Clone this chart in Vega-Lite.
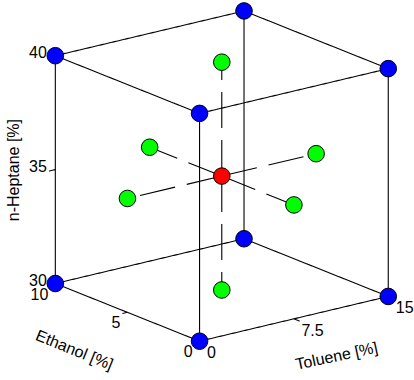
{
  "$schema": "https://vega.github.io/schema/vega-lite/v6.json",
  "width": 414,
  "height": 380,
  "padding": 0,
  "autosize": {"type": "fit", "contains": "padding"},
  "background": "white",
  "config": {"view": {"stroke": null}, "text": {"font": "Liberation Sans", "fontSize": 16, "color": "black"}},
  "datasets": {
    "lines": [
      {"e1": 0, "t1": 0, "h1": 30, "e2": 10, "t2": 0, "h2": 30, "kind": "edge"},
      {"e1": 0, "t1": 0, "h1": 30, "e2": 0, "t2": 15, "h2": 30, "kind": "edge"},
      {"e1": 10, "t1": 0, "h1": 30, "e2": 10, "t2": 15, "h2": 30, "kind": "edge"},
      {"e1": 0, "t1": 15, "h1": 30, "e2": 10, "t2": 15, "h2": 30, "kind": "edge"},
      {"e1": 0, "t1": 0, "h1": 40, "e2": 10, "t2": 0, "h2": 40, "kind": "edge"},
      {"e1": 0, "t1": 0, "h1": 40, "e2": 0, "t2": 15, "h2": 40, "kind": "edge"},
      {"e1": 10, "t1": 0, "h1": 40, "e2": 10, "t2": 15, "h2": 40, "kind": "edge"},
      {"e1": 0, "t1": 15, "h1": 40, "e2": 10, "t2": 15, "h2": 40, "kind": "edge"},
      {"e1": 0, "t1": 0, "h1": 30, "e2": 0, "t2": 0, "h2": 40, "kind": "edge"},
      {"e1": 10, "t1": 0, "h1": 30, "e2": 10, "t2": 0, "h2": 40, "kind": "edge"},
      {"e1": 0, "t1": 15, "h1": 30, "e2": 0, "t2": 15, "h2": 40, "kind": "edge"},
      {"e1": 10, "t1": 15, "h1": 30, "e2": 10, "t2": 15, "h2": 40, "kind": "edge"},
      {"e1": 5, "t1": 7.5, "h1": 35, "e2": 5, "t2": 7.5, "h2": 40, "kind": "axial"},
      {"e1": 5, "t1": 7.5, "h1": 35, "e2": 5, "t2": 7.5, "h2": 30, "kind": "axial"},
      {"e1": 5, "t1": 7.5, "h1": 35, "e2": 0, "t2": 7.5, "h2": 35, "kind": "axial"},
      {"e1": 5, "t1": 7.5, "h1": 35, "e2": 10, "t2": 7.5, "h2": 35, "kind": "axial"},
      {"e1": 5, "t1": 7.5, "h1": 35, "e2": 5, "t2": 0, "h2": 35, "kind": "axial"},
      {"e1": 5, "t1": 7.5, "h1": 35, "e2": 5, "t2": 15, "h2": 35, "kind": "axial"},
      {"e1": 5, "t1": 0, "h1": 30, "e2": 5, "t2": -0.4, "h2": 30, "kind": "tick"},
      {"e1": 0, "t1": 7.5, "h1": 30, "e2": -0.4, "t2": 7.5, "h2": 30, "kind": "tick"},
      {"e1": 10, "t1": 0, "h1": 35, "e2": 10, "t2": -0.5, "h2": 35, "kind": "tick"}
    ],
    "points": [
      {"ethanol": 0, "toluene": 0, "heptane": 30, "group": "cube"},
      {"ethanol": 10, "toluene": 0, "heptane": 30, "group": "cube"},
      {"ethanol": 0, "toluene": 15, "heptane": 30, "group": "cube"},
      {"ethanol": 10, "toluene": 15, "heptane": 30, "group": "cube"},
      {"ethanol": 0, "toluene": 0, "heptane": 40, "group": "cube"},
      {"ethanol": 10, "toluene": 0, "heptane": 40, "group": "cube"},
      {"ethanol": 0, "toluene": 15, "heptane": 40, "group": "cube"},
      {"ethanol": 10, "toluene": 15, "heptane": 40, "group": "cube"},
      {"ethanol": 5, "toluene": 7.5, "heptane": 30, "group": "axial"},
      {"ethanol": 5, "toluene": 7.5, "heptane": 40, "group": "axial"},
      {"ethanol": 0, "toluene": 7.5, "heptane": 35, "group": "axial"},
      {"ethanol": 10, "toluene": 7.5, "heptane": 35, "group": "axial"},
      {"ethanol": 5, "toluene": 0, "heptane": 35, "group": "axial"},
      {"ethanol": 5, "toluene": 15, "heptane": 35, "group": "axial"},
      {"ethanol": 5, "toluene": 7.5, "heptane": 35, "group": "center"}
    ],
    "ticks": [
      {"axis": "heptane", "ethanol": 10, "toluene": 0, "heptane": 30, "label": "30"},
      {"axis": "heptane", "ethanol": 10, "toluene": 0, "heptane": 35, "label": "35"},
      {"axis": "heptane", "ethanol": 10, "toluene": 0, "heptane": 40, "label": "40"},
      {"axis": "ethanol", "ethanol": 0, "toluene": 0, "heptane": 30, "label": "0"},
      {"axis": "ethanol", "ethanol": 5, "toluene": 0, "heptane": 30, "label": "5"},
      {"axis": "ethanol", "ethanol": 10, "toluene": 0, "heptane": 30, "label": "10"},
      {"axis": "toluene", "ethanol": 0, "toluene": 0, "heptane": 30, "label": "0"},
      {"axis": "toluene", "ethanol": 0, "toluene": 7.5, "heptane": 30, "label": "7.5"},
      {"axis": "toluene", "ethanol": 0, "toluene": 15, "heptane": 30, "label": "15"}
    ],
    "titles": [
      {"axis": "heptane", "ethanol": 10, "toluene": 0, "heptane": 35, "title": "n-Heptane [%]"},
      {"axis": "ethanol", "ethanol": 5, "toluene": 0, "heptane": 30, "title": "Ethanol [%]"},
      {"axis": "toluene", "ethanol": 0, "toluene": 7.5, "heptane": 30, "title": "Toluene [%]"}
    ]
  },
  "layer": [
    {
      "data": {"name": "lines"},
      "transform": [
        {"calculate": "202 + datum.t1/15*191 - datum.e1/10*146", "as": "sx1"},
        {"calculate": "341 - datum.t1/15*45 - datum.e1/10*58 - (datum.h1-30)/10*229", "as": "sy1"},
        {"calculate": "202 + datum.t2/15*191 - datum.e2/10*146", "as": "sx2"},
        {"calculate": "341 - datum.t2/15*45 - datum.e2/10*58 - (datum.h2-30)/10*229", "as": "sy2"}
      ],
      "mark": {"type": "rule", "color": "black", "strokeWidth": 1.1},
      "encoding": {
        "x": {"field": "sx1", "type": "quantitative", "scale": {"domain": [0, 414], "nice": false, "zero": false}, "axis": null},
        "y": {"field": "sy1", "type": "quantitative", "scale": {"domain": [0, 380], "nice": false, "zero": false, "reverse": true}, "axis": null},
        "x2": {"field": "sx2"},
        "y2": {"field": "sy2"},
        "strokeDash": {"field": "kind", "type": "nominal", "scale": {"domain": ["edge", "axial", "tick"], "range": [[1, 0], [36, 12], [1, 0]]}, "legend": null}
      }
    },
    {
      "data": {"name": "points"},
      "transform": [
        {"calculate": "202 + datum.toluene/15*191 - datum.ethanol/10*146", "as": "sx"},
        {"calculate": "341 - datum.toluene/15*45 - datum.ethanol/10*58 - (datum.heptane-30)/10*229", "as": "sy"}
      ],
      "mark": {"type": "circle", "size": 275, "stroke": "black", "strokeWidth": 1, "opacity": 1},
      "encoding": {
        "x": {"field": "sx", "type": "quantitative"},
        "y": {"field": "sy", "type": "quantitative"},
        "color": {"field": "group", "type": "nominal", "scale": {"domain": ["cube", "axial", "center"], "range": ["#0000ff", "#00ff00", "#ff0000"]}, "legend": null}
      }
    },
    {
      "data": {"name": "ticks"},
      "transform": [
        {"filter": "datum.axis === 'heptane'"},
        {"calculate": "202 + datum.toluene/15*191 - datum.ethanol/10*146", "as": "sx"},
        {"calculate": "341 - datum.toluene/15*45 - datum.ethanol/10*58 - (datum.heptane-30)/10*229", "as": "sy"}
      ],
      "mark": {"type": "text", "align": "right", "baseline": "middle", "dx": -8.5, "dy": -3},
      "encoding": {
        "x": {"field": "sx", "type": "quantitative"},
        "y": {"field": "sy", "type": "quantitative"},
        "text": {"field": "label", "type": "nominal"}
      }
    },
    {
      "data": {"name": "ticks"},
      "transform": [
        {"filter": "datum.axis === 'ethanol'"},
        {"calculate": "202 + datum.toluene/15*191 - datum.ethanol/10*146", "as": "sx"},
        {"calculate": "341 - datum.toluene/15*45 - datum.ethanol/10*58 - (datum.heptane-30)/10*229", "as": "sy"}
      ],
      "mark": {"type": "text", "align": "right", "baseline": "middle", "dx": -7, "dy": 11},
      "encoding": {
        "x": {"field": "sx", "type": "quantitative"},
        "y": {"field": "sy", "type": "quantitative"},
        "text": {"field": "label", "type": "nominal"}
      }
    },
    {
      "data": {"name": "ticks"},
      "transform": [
        {"filter": "datum.axis === 'toluene'"},
        {"calculate": "202 + datum.toluene/15*191 - datum.ethanol/10*146", "as": "sx"},
        {"calculate": "341 - datum.toluene/15*45 - datum.ethanol/10*58 - (datum.heptane-30)/10*229", "as": "sy"}
      ],
      "mark": {"type": "text", "align": "left", "baseline": "middle", "dx": 7.5, "dy": 12},
      "encoding": {
        "x": {"field": "sx", "type": "quantitative"},
        "y": {"field": "sy", "type": "quantitative"},
        "text": {"field": "label", "type": "nominal"}
      }
    },
    {
      "data": {"name": "titles"},
      "transform": [
        {"filter": "datum.axis === 'heptane'"},
        {"calculate": "202 + datum.toluene/15*191 - datum.ethanol/10*146", "as": "sx"},
        {"calculate": "341 - datum.toluene/15*45 - datum.ethanol/10*58 - (datum.heptane-30)/10*229", "as": "sy"}
      ],
      "mark": {"type": "text", "align": "center", "baseline": "middle", "angle": 270, "dx": -0.5, "dy": -41},
      "encoding": {
        "x": {"field": "sx", "type": "quantitative"},
        "y": {"field": "sy", "type": "quantitative"},
        "text": {"field": "title", "type": "nominal"}
      }
    },
    {
      "data": {"name": "titles"},
      "transform": [
        {"filter": "datum.axis === 'ethanol'"},
        {"calculate": "202 + datum.toluene/15*191 - datum.ethanol/10*146", "as": "sx"},
        {"calculate": "341 - datum.toluene/15*45 - datum.ethanol/10*58 - (datum.heptane-30)/10*229", "as": "sy"}
      ],
      "mark": {"type": "text", "align": "center", "baseline": "middle", "angle": 22, "dx": -35, "dy": 55},
      "encoding": {
        "x": {"field": "sx", "type": "quantitative"},
        "y": {"field": "sy", "type": "quantitative"},
        "text": {"field": "title", "type": "nominal"}
      }
    },
    {
      "data": {"name": "titles"},
      "transform": [
        {"filter": "datum.axis === 'toluene'"},
        {"calculate": "202 + datum.toluene/15*191 - datum.ethanol/10*146", "as": "sx"},
        {"calculate": "341 - datum.toluene/15*45 - datum.ethanol/10*58 - (datum.heptane-30)/10*229", "as": "sy"}
      ],
      "mark": {"type": "text", "align": "center", "baseline": "middle", "angle": 348, "dx": 34, "dy": 45.5},
      "encoding": {
        "x": {"field": "sx", "type": "quantitative"},
        "y": {"field": "sy", "type": "quantitative"},
        "text": {"field": "title", "type": "nominal"}
      }
    }
  ]
}
